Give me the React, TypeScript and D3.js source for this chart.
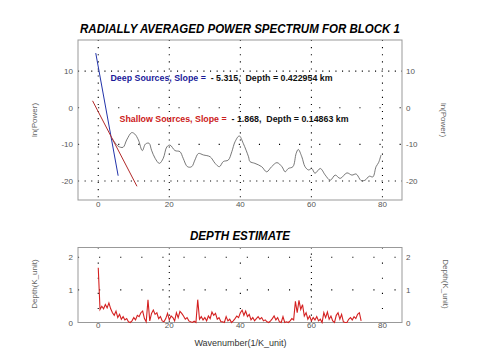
import * as d3 from 'd3'

// power spectrum (wavenumber, ln(power))
const specK = [3.9, 5.6, 7.0, 8.0, 9.4, 10.3, 11.3, 12.4, 13.3, 14.3, 15.0, 16.0, 17.2, 18.3, 19.3, 20.2, 21.6, 23.0, 23.9, 25.1, 26.3, 27.2, 28.2, 29.6, 31.5, 32.9, 34.1, 35.2, 36.6, 37.6, 38.5, 39.7, 40.8, 42.3, 42.7, 44.1, 46.0, 47.4, 48.8, 50.3, 51.7, 52.6, 53.5, 54.8, 55.7, 56.3, 57.3, 58.2, 59.2, 60.1, 61.0, 62.5, 63.9, 65.3, 66.7, 68.1, 70.0, 71.4, 72.6, 74.0, 75.1, 76.3, 77.3, 78.2, 78.9, 79.6]
const specPower = [-8.4, -10.5, -10.8, -8.8, -6.8, -7.2, -8.8, -11.7, -9.9, -9.7, -11.6, -13.8, -15.2, -13.8, -10.7, -10.2, -11.7, -12.0, -13.8, -16.1, -16.1, -14.3, -12.5, -12.9, -13.4, -15.2, -16.1, -14.7, -14.3, -12.0, -9.3, -7.7, -9.7, -13.4, -14.7, -15.2, -16.1, -17.5, -16.1, -15.0, -16.1, -17.5, -16.6, -16.1, -12.5, -11.4, -13.4, -16.1, -17.0, -16.6, -17.9, -16.6, -18.4, -19.8, -18.4, -19.3, -17.8, -18.4, -18.1, -19.9, -19.8, -18.7, -18.9, -16.1, -15.0, -12.9]

// fitted lines
const deepSlope = -5.315
const deepIntercept = 11.2
const deepRange = [-0.7, 5.6]
const shallowSlope = -1.868
const shallowIntercept = -1.1
const shallowRange = [-1.6, 10.9]

// depth estimate, wavenumber step 0.5 from 0
const depthStep = 0.5
const depthValues = [
  1.68, 0.40, 0.50, 0.42, 0.55, 0.45, 0.60, 0.42, 0.30, 0.22,
  0.35, 0.15, 0.25, 0.10, 0.18, 0.08, 0.12, 0.02, 0.00, 0.05,
  0.15, 0.08, 0.22, 0.18, 0.30, 0.35, 0.12, 0.02, 0.70, 0.05,
  0.28, 0.38, 0.25, 0.30, 0.12, 0.18, 0.05, 0.02, 0.12, 0.28,
  0.08, 0.20, 0.15, 0.05, 0.30, 0.15, 0.34, 0.28, 0.20, 0.10,
  0.15, 0.05, 0.02, 0.00, 0.04, 0.00, 0.70, 0.10, 0.18, 0.08,
  0.15, 0.05, 0.20, 0.12, 0.32, 0.22, 0.28, 0.10, 0.15, 0.03,
  0.02, 0.00, 0.18, 0.05, 0.10, 0.00, 0.05, 0.12, 0.20, 0.15,
  0.30, 0.38, 0.22, 0.35, 0.18, 0.25, 0.08, 0.15, 0.05, 0.12,
  0.18, 0.10, 0.15, 0.05, 0.08, 0.02, 0.00, 0.05, 0.12, 0.20,
  0.08, 0.15, 0.02, 0.00, 0.18, 0.00, 0.02, 0.00, 0.05, 0.12,
  0.08, 0.65, 0.30, 0.68, 0.40, 0.55, 0.20, 0.30, 0.10, 0.20,
  0.05, 0.15, 0.08, 0.18, 0.05, 0.10, 0.00, 0.30, 0.15, 0.32,
  0.10, 0.20, 0.05, 0.00, 0.22, 0.30, 0.10, 0.25, 0.02, 0.00,
  0.00, 0.10, 0.15, 0.08, 0.18, 0.12, 0.25, 0.30, 0.05
]

const xTicks = [0, 20, 40, 60, 80]
const powerTicks = [10, 0, -10, -20]
const depthTicks = [0, 1, 2]

const W = 480
const H = 360
const left = 78
const right = 402
const font = 'Arial, "Liberation Sans", sans-serif'

export default function App() {
  const x = d3.scaleLinear().domain([-5.7, 85.5]).range([left, right])
  const yTop = d3.scaleLinear().domain([-25.2, 18.5]).range([200, 40])
  const yBot = d3.scaleLinear().domain([0, 2.3]).range([322.5, 247.5])

  const specLine = d3.line<number>()
    .x((_, i) => x(specK[i]))
    .y(d => yTop(d))
    .curve(d3.curveCatmullRom)

  const depthLine = d3.line<number>()
    .x((_, i) => x(i * depthStep))
    .y(d => yBot(d))

  const fit = (slope: number, b: number, r: number[]) =>
    r.map(k => [x(k), yTop(b + slope * k)] as [number, number])

  const deep = fit(deepSlope, deepIntercept, deepRange)
  const shallow = fit(shallowSlope, shallowIntercept, shallowRange)

  const dot = { stroke: '#000', strokeWidth: 1.1 }
  const tickStyle = { fontSize: 8, fill: '#555' }

  return (
    <svg width={W} height={H} style={{ position: 'absolute', left: 0, top: 0, background: '#fff' }}
      fontFamily={font}>
      {/* top panel */}
      <text x={240} y={33} textAnchor="middle" fontSize={12} fontWeight="bold" fontStyle="italic"
        textLength={320} lengthAdjust="spacingAndGlyphs">RADIALLY AVERAGED POWER SPECTRUM FOR BLOCK 1</text>

      {powerTicks.map(t => (
        <line key={'hp' + t} x1={left} x2={right} y1={yTop(t)} y2={yTop(t)} {...dot}
          strokeDasharray={t === 10 || t === -20 ? '1.1,5.5' : '1.1,19'} />
      ))}
      {xTicks.map(t => (
        <line key={'vp' + t} x1={x(t)} x2={x(t)} y1={40} y2={200} {...dot} strokeDasharray="1.1,6" />
      ))}
      <rect x={left} y={40} width={right - left} height={160} fill="none" stroke="#999" />

      {powerTicks.map(t => (
        <g key={'lp' + t}>
          <text x={left - 5} y={yTop(t) + 3} textAnchor="end" {...tickStyle}>{t}</text>
          <text x={right + 4} y={yTop(t) + 3} {...tickStyle}>{t}</text>
        </g>
      ))}
      {xTicks.map(t => (
        <text key={'xp' + t} x={x(t)} y={207} textAnchor="middle" {...tickStyle}>{t}</text>
      ))}
      <text transform="translate(37,120) rotate(-90)" textAnchor="middle" fontSize={8} fill="#666">ln(Power)</text>
      <text transform="translate(441,120) rotate(90)" textAnchor="middle" fontSize={8} fill="#666">ln(Power)</text>

      <path d={specLine(specPower) || ''} fill="none" stroke="#555" strokeWidth={0.8} />
      <line x1={deep[0][0]} y1={deep[0][1]} x2={deep[1][0]} y2={deep[1][1]} stroke="#2233aa" strokeWidth={1} />
      <line x1={shallow[0][0]} y1={shallow[0][1]} x2={shallow[1][0]} y2={shallow[1][1]} stroke="#b22a2a" strokeWidth={1} />

      <text x={110.5} y={81} fontSize={9} fontWeight="bold" textLength={222} lengthAdjust="spacingAndGlyphs"
        style={{ whiteSpace: 'pre' }}>
        <tspan fill="#1a1a99">Deep Sources, Slope = </tspan>
        <tspan fill="#111"> - 5.315,  Depth = 0.422954 km</tspan>
      </text>
      <text x={119.5} y={122} fontSize={9} fontWeight="bold" textLength={229} lengthAdjust="spacingAndGlyphs"
        style={{ whiteSpace: 'pre' }}>
        <tspan fill="#cc2020">Shallow Sources, Slope = </tspan>
        <tspan fill="#111"> - 1.868,  Depth = 0.14863 km</tspan>
      </text>

      {/* bottom panel */}
      <text x={240} y={240} textAnchor="middle" fontSize={12} fontWeight="bold" fontStyle="italic"
        textLength={100} lengthAdjust="spacingAndGlyphs">DEPTH ESTIMATE</text>

      {[1, 2].map(t => (
        <line key={'hd' + t} x1={left} x2={right} y1={yBot(t)} y2={yBot(t)} {...dot} strokeDasharray="1.1,20" />
      ))}
      {xTicks.map(t => (
        <line key={'vd' + t} x1={x(t)} x2={x(t)} y1={247.5} y2={322.5} {...dot}
          strokeDasharray={t === 20 || t === 60 ? '1.1,5' : '1.1,14'} />
      ))}
      <rect x={left} y={247.5} width={right - left} height={75} fill="none" stroke="#999" />

      <path d={depthLine(depthValues) || ''} fill="none" stroke="#d42020" strokeWidth={1.1} />

      {depthTicks.map(t => (
        <g key={'ld' + t}>
          <text x={left - 5} y={yBot(t) + 3} textAnchor="end" {...tickStyle}>{t}</text>
          <text x={right + 4} y={yBot(t) + 3} {...tickStyle}>{t}</text>
        </g>
      ))}
      {xTicks.map(t => (
        <text key={'xd' + t} x={x(t)} y={328} textAnchor="middle" {...tickStyle}>{t}</text>
      ))}
      <text transform="translate(37,284) rotate(-90)" textAnchor="middle" fontSize={8} fill="#666">Depth(K_unit)</text>
      <text transform="translate(443,284) rotate(90)" textAnchor="middle" fontSize={8} fill="#666">Depth(K_unit)</text>

      <text x={240.5} y={346} textAnchor="middle" fontSize={9} fill="#333">Wavenumber(1/K_unit)</text>
    </svg>
  )
}
